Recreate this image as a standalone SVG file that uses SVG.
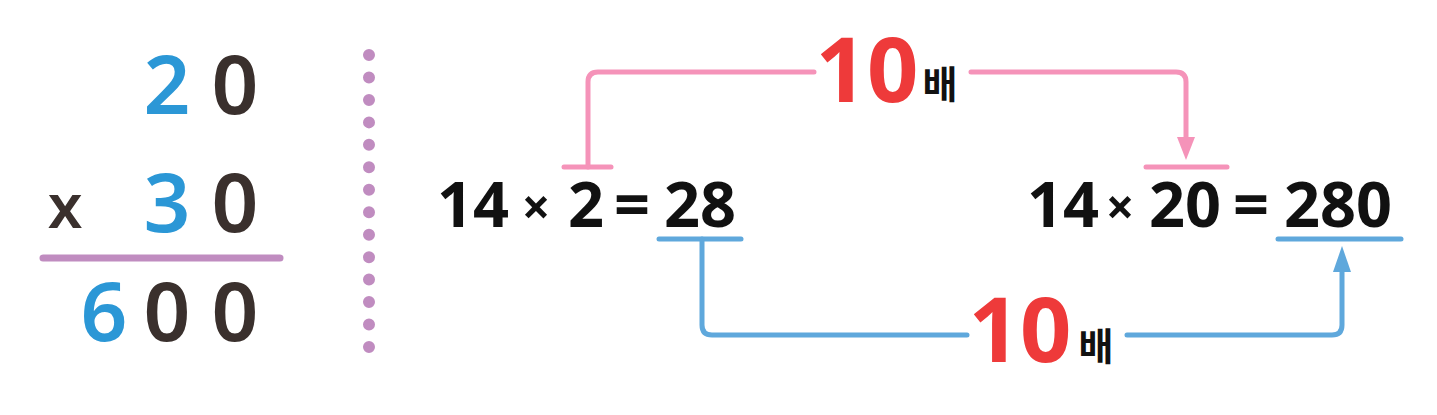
<svg xmlns="http://www.w3.org/2000/svg" width="1437" height="415" viewBox="0 0 1437 415">
  <style>
    .big { font-family: "Noto Sans", "DejaVu Sans", sans-serif; font-size: 82px; font-weight: 600; text-anchor: middle; }
    .blue { fill: #2b97d6; }
    .dark { fill: #3a302d; }
    .eq { font-family: "Noto Sans", "DejaVu Sans", sans-serif; font-size: 63px; font-weight: 700; fill: #111; text-anchor: middle; }
    .red { font-family: "Noto Sans", "DejaVu Sans", sans-serif; font-size: 90px; font-weight: 700; fill: #ee3a3a; text-anchor: middle; }
    .bae { font-family: "Noto Sans CJK KR", "Noto Sans", sans-serif; font-size: 38px; font-weight: 700; fill: #111; text-anchor: middle; }
    .pink { fill: none; stroke: #f593b9; stroke-width: 5; stroke-linecap: round; stroke-linejoin: round; }
    .bl { fill: none; stroke: #5fa8dc; stroke-width: 5; stroke-linecap: round; stroke-linejoin: round; }
  </style>
  <rect width="1437" height="415" fill="#ffffff"/>

  <g id="vertical-calc">
    <text class="big blue" x="167" y="114">2</text>
    <text class="big dark" x="235" y="114">0</text>
    <text class="big dark" x="65" y="228" style="font-size:62px">x</text>
    <text class="big blue" x="167" y="232">3</text>
    <text class="big dark" x="235" y="232">0</text>
    <line x1="43" y1="258" x2="280" y2="258" stroke="#c08cc0" stroke-width="7" stroke-linecap="round"/>
    <text class="big blue" x="104" y="341">6</text>
    <text class="big dark" x="167" y="341">0</text>
    <text class="big dark" x="235" y="341">0</text>
  </g>

  <g id="divider">
    <line x1="369" y1="55" x2="369" y2="347" stroke="#c08cc0" stroke-width="12" stroke-linecap="round" stroke-dasharray="0 22.46"/>
  </g>

  <g id="equation-left">
    <text class="eq" x="473" y="227">14</text>
    <text class="eq" x="536" y="225" style="font-size:50px">×</text>
    <text class="eq" x="586" y="227">2</text>
    <text class="eq" x="632" y="227">=</text>
    <text class="eq" x="700" y="227">28</text>
  </g>

  <g id="equation-right">
    <text class="eq" x="1063" y="227">14</text>
    <text class="eq" x="1120" y="225" style="font-size:50px">×</text>
    <text class="eq" x="1185" y="227">20</text>
    <text class="eq" x="1251" y="227">=</text>
    <text class="eq" x="1338" y="227">280</text>
  </g>

  <g id="label-top">
    <text class="red" x="867" y="102">10</text>
    <text class="bae" x="940" y="98">배</text>
  </g>

  <g id="label-bottom">
    <text class="red" x="1020" y="362">10</text>
    <text class="bae" x="1096" y="360">배</text>
  </g>

  <g id="connectors">
    <line class="pink" x1="564" y1="167" x2="611" y2="167"/>
    <path class="pink" d="M588 167 V82 Q588 72 598 72 H814"/>
    <path class="pink" d="M971 72 H1176 Q1186 72 1186 82 V140"/>
    <polygon points="1177,137 1195,137 1186,160" fill="#f593b9"/>
    <line class="pink" x1="1146" y1="167" x2="1227" y2="167"/>

    <line class="bl" x1="659" y1="239" x2="741" y2="239"/>
    <path class="bl" d="M702 239 V325 Q702 335 712 335 H967"/>
    <path class="bl" d="M1127 335 H1332 Q1342 335 1342 325 V268"/>
    <polygon points="1333,272 1351,272 1342,246" fill="#5fa8dc"/>
    <line class="bl" x1="1278" y1="239" x2="1401" y2="239"/>
  </g>
</svg>
